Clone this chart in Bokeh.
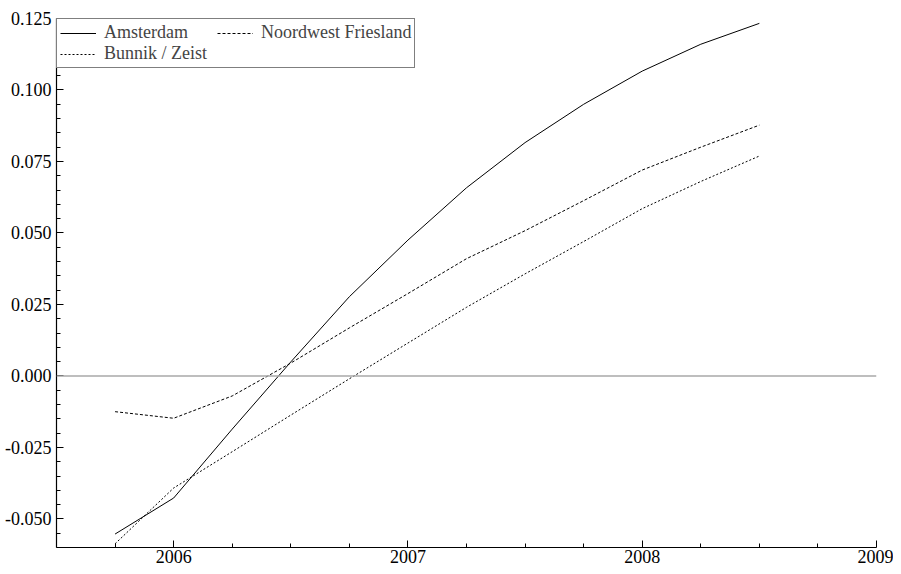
from bokeh.plotting import figure
from bokeh.models import Range1d, FixedTicker, Span, Legend, LegendItem, NumeralTickFormatter
from bokeh.embed import file_html
from bokeh.resources import INLINE

quarters = [2005.75, 2006.0, 2006.25, 2006.5, 2006.75, 2007.0, 2007.25, 2007.5, 2007.75, 2008.0, 2008.25, 2008.5]
amsterdam = [-0.0553, -0.0427, -0.0186, 0.0049, 0.0277, 0.0475, 0.0658, 0.0816, 0.0950, 0.1066, 0.1160, 0.1233]
noordwest_friesland = [-0.0125, -0.0148, -0.0070, 0.0045, 0.0168, 0.0288, 0.0410, 0.0508, 0.0613, 0.0720, 0.0800, 0.0877]
bunnik_zeist = [-0.0587, -0.0392, -0.0265, -0.0137, -0.0010, 0.0115, 0.0240, 0.0357, 0.0470, 0.0585, 0.0680, 0.0769]

x_ticks = [2006, 2007, 2008, 2009]
x_minor = [2005.75, 2006.25, 2006.5, 2006.75, 2007.25, 2007.5, 2007.75, 2008.25, 2008.5, 2008.75]
y_ticks = [-0.05, -0.025, 0.0, 0.025, 0.05, 0.075, 0.1, 0.125]
y_minor = [round(-0.06 + 0.005 * i, 3) for i in range(38)]

FONT = "'Liberation Serif', 'Times New Roman', serif"

p = figure(width=893, height=565, output_backend="svg", toolbar_location=None,
           x_range=Range1d(2005.5, 2009), y_range=Range1d(-0.06, 0.125),
           min_border_left=56, min_border_right=17, min_border_top=18, min_border_bottom=0)
p.outline_line_color = None
p.xgrid.visible = False
p.ygrid.visible = False
p.background_fill_color = "white"
p.border_fill_color = "white"

p.add_layout(Span(location=0, dimension="width", line_color="#a8a8a8", line_width=1.5))

r1 = p.line(quarters, amsterdam, line_color="black", line_width=1)
r2 = p.line(quarters, noordwest_friesland, line_color="black", line_width=1, line_dash="3 2")
r3 = p.line(quarters, bunnik_zeist, line_color="black", line_width=1, line_dash="2 2")

for ax in (p.xaxis[0], p.yaxis[0]):
    ax.axis_line_color = "black"
    ax.axis_line_width = 1.2
    ax.major_tick_in = 7
    ax.major_tick_out = 0
    ax.minor_tick_in = 4
    ax.minor_tick_out = 0
    ax.major_tick_line_color = "black"
    ax.minor_tick_line_color = "black"
    ax.major_label_text_font = FONT
    ax.major_label_text_font_size = "18px"
    ax.major_label_text_color = "black"

p.xaxis[0].ticker = FixedTicker(ticks=x_ticks, minor_ticks=x_minor)
p.xaxis[0].formatter = NumeralTickFormatter(format="0")
p.xaxis[0].major_label_standoff = 2
p.yaxis[0].ticker = FixedTicker(ticks=y_ticks, minor_ticks=y_minor)
p.yaxis[0].formatter = NumeralTickFormatter(format="0.000")
p.yaxis[0].major_label_standoff = 5

legend = Legend(items=[
    LegendItem(label="Amsterdam", renderers=[r1]),
    LegendItem(label="Bunnik / Zeist", renderers=[r3]),
    LegendItem(label="Noordwest Friesland", renderers=[r2]),
], location="top_left", ncols=2)
legend.margin = 0
legend.padding = 3
legend.spacing = 0
legend.border_line_color = "black"
legend.border_line_width = 1
legend.background_fill_color = "white"
legend.background_fill_alpha = 1
legend.label_text_font = FONT
legend.label_text_font_size = "18px"
legend.label_standoff = 8
legend.label_width = 113
legend.glyph_width = 36
legend.glyph_height = 16
legend.label_height = 16
p.add_layout(legend)

open("out.html", "w").write(file_html(p, INLINE))
